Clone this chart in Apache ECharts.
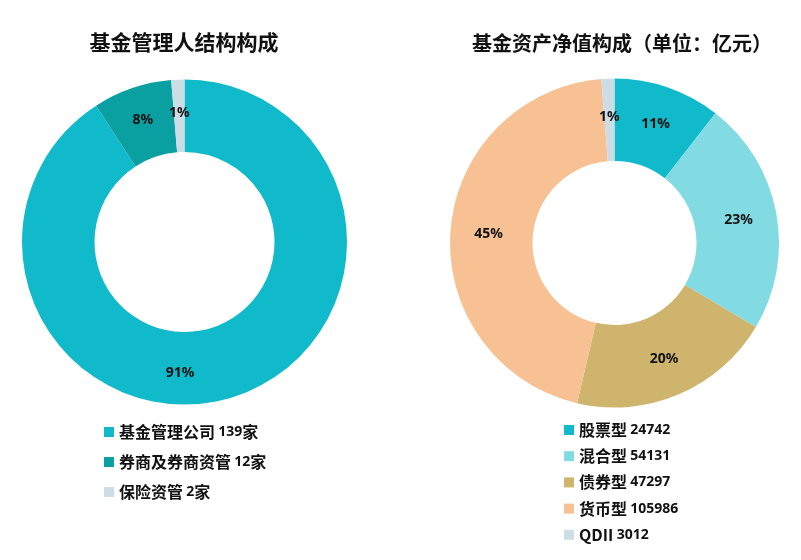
<!DOCTYPE html>
<html>
<head>
<meta charset="utf-8">
<script src="https://cdn.jsdelivr.net/npm/echarts@6/dist/echarts.min.js"></script>
<style>
  html, body { margin: 0; padding: 0; background: #fff; }
  #chart { width: 801px; height: 560px; }
</style>
</head>
<body>
<div id="chart"></div>
<script>
// left donut: fund manager structure
const managerNames = ['基金管理公司', '券商及券商资管', '保险资管']
const managerCounts = [139, 12, 2]
const managerColors = ['#10BACA', '#0A9FA0', '#CCDDE6']

// right donut: net asset value by fund type (亿元)
const assetNames = ['股票型', '混合型', '债券型', '货币型', 'QDII']
const assetValues = [24742, 54131, 47297, 105986, 3012]
const assetColors = ['#10BACA', '#82DBE3', '#CFB46E', '#F8C193', '#CCDDE6']

const chart = echarts.init(document.getElementById('chart'))

const cjk = '"Noto Sans CJK SC", "Noto Sans", sans-serif'

const pieLabel = {
    show: true,
    position: 'inside',
    color: '#111',
    fontFamily: '"Noto Sans", sans-serif',
    fontWeight: 'bold',
    fontSize: 14,
    formatter: p => Math.round(p.percent) + '%'
}

const legendRich = {
    a: { fontFamily: cjk, fontWeight: 'bold', fontSize: 16, color: '#111' },
    b: { fontFamily: '"Noto Sans", sans-serif', fontWeight: 'bold', fontSize: 14, color: '#111' }
}

function toData(names, values, colors) {
    return names.map((n, i) => ({ name: n, value: values[i], itemStyle: { color: colors[i] } }))
}

const option = {
    animation: false,
    title: [{
        text: '基金管理人结构构成',
        left: 179,
        top: 27,
        textAlign: 'center',
        textStyle: { fontFamily: cjk, fontWeight: 'bold', fontSize: 21, color: '#111' }
    }, {
        text: '基金资产净值构成（单位：亿元）',
        left: 617,
        top: 28,
        textAlign: 'center',
        textStyle: { fontFamily: cjk, fontWeight: 'bold', fontSize: 20, color: '#111' }
    }],
    legend: [{
        orient: 'vertical',
        left: 99,
        top: 416,
        itemWidth: 10,
        itemHeight: 10,
        itemGap: 8,
        icon: 'rect',
        data: managerNames,
        formatter: name => {
            const v = managerCounts[managerNames.indexOf(name)]
            return '{a|' + name + '} {b|' + v + '}{a|家}'
        },
        textStyle: { lineHeight: 22, rich: legendRich }
    }, {
        orient: 'vertical',
        left: 559,
        top: 414,
        itemWidth: 10,
        itemHeight: 10,
        itemGap: 4.2,
        icon: 'rect',
        data: assetNames,
        formatter: name => {
            const v = assetValues[assetNames.indexOf(name)]
            return '{a|' + name + '} {b|' + v + '}'
        },
        textStyle: { lineHeight: 22, rich: legendRich }
    }],
    series: [{
        type: 'pie',
        center: [184.5, 242],
        radius: [90, 162.5],
        startAngle: 90,
        clockwise: true,
        avoidLabelOverlap: false,
        label: pieLabel,
        labelLine: { show: false },
        labelLayout: p => p.dataIndex === 0 ? { dx: -41, dy: 7 } : {},
        emphasis: { disabled: true },
        data: toData(managerNames, managerCounts, managerColors)
    }, {
        type: 'pie',
        center: [614.5, 243],
        radius: [82, 164.5],
        startAngle: 90,
        clockwise: true,
        avoidLabelOverlap: false,
        label: pieLabel,
        labelLine: { show: false },
        emphasis: { disabled: true },
        data: toData(assetNames, assetValues, assetColors)
    }]
}

chart.setOption(option)
</script>
</body>
</html>
